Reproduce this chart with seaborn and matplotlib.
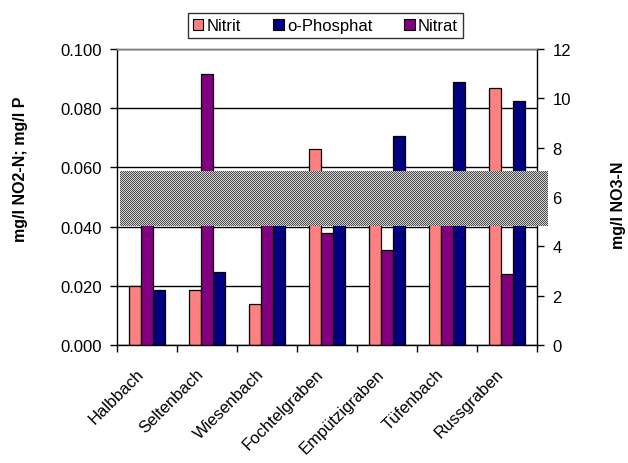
import numpy as np
import pandas as pd
import matplotlib
matplotlib.use("Agg")
import matplotlib.pyplot as plt
import matplotlib.transforms as mtransforms
from matplotlib.patches import Patch
from matplotlib.ticker import FormatStrFormatter, MultipleLocator, FixedLocator
import seaborn as sns

# --- data -------------------------------------------------------------
baeche = ["Halbbach", "Seltenbach", "Wiesenbach", "Fochtelgraben",
          "Empützigraben", "Tüfenbach", "Russgraben"]
nitrit = [0.0200, 0.0185, 0.0137, 0.0661, 0.0520, 0.0500, 0.0867]       # mg/l NO2-N
phosphat = [0.0185, 0.0246, 0.0520, 0.0500, 0.0707, 0.0890, 0.0824]     # mg/l P
nitrat = [6.0, 11.0, 5.6, 4.54, 3.84, 6.2, 2.89]                        # mg/l NO3-N

serien = ["Nitrit", "Nitrat", "o-Phosphat"]          # order of bars inside a group
legend_order = ["Nitrit", "o-Phosphat", "Nitrat"]
farben = {"Nitrit": "#FF8080", "o-Phosphat": "#000080", "Nitrat": "#800080"}

df = pd.DataFrame({
    "Bach": baeche * 3,
    "Serie": ["Nitrit"] * 7 + ["Nitrat"] * 7 + ["o-Phosphat"] * 7,
    "Wert": nitrit + nitrat + phosphat,
})
links = df.copy()
links.loc[links["Serie"] == "Nitrat", "Wert"] = np.nan
rechts = df.copy()
rechts.loc[rechts["Serie"] != "Nitrat", "Wert"] = np.nan

# --- figure -----------------------------------------------------------
sns.set_theme(style="white")
plt.rcParams["font.family"] = ["Liberation Sans", "DejaVu Sans"]
plt.rcParams.update({"text.color": "black", "axes.labelcolor": "black",
                     "xtick.color": "black", "ytick.color": "black"})

W, H = 628, 464
fig = plt.figure(figsize=(W / 100, H / 100), dpi=100)
ax = fig.add_axes([117 / W, 1 - 346 / H, 420 / W, 296 / H])
ax2 = ax.twinx()

bar_kw = dict(x="Bach", y="Wert", hue="Serie", hue_order=serien, order=baeche,
              palette=farben, width=0.6, saturation=1, errorbar=None,
              edgecolor="black", linewidth=0.9, legend=False)
sns.barplot(data=links, ax=ax, **bar_kw)
sns.barplot(data=rechts, ax=ax2, **bar_kw)

# left axis
ax.set_xlim(-0.5, 6.5)
ax.set_ylim(0, 0.1)
ax.yaxis.set_major_locator(MultipleLocator(0.02))
ax.yaxis.set_major_formatter(FormatStrFormatter("%.3f"))
ax.set_axisbelow(True)
ax.yaxis.grid(True, color="black", linewidth=1)
ax.xaxis.grid(False)
ax.set_xlabel("")
ax.set_ylabel("")

# right axis
ax2.set_ylim(0, 12)
ax2.yaxis.set_major_locator(MultipleLocator(2))
ax2.set_xlabel("")
ax2.set_ylabel("")
ax2.grid(False)

tick_fs = 12
ax.tick_params(axis="y", which="major", direction="out", length=5, width=1,
               color="black", labelcolor="black", labelsize=tick_fs, pad=6, left=True)
ax2.tick_params(axis="y", which="major", direction="out", length=5, width=1,
                color="black", labelcolor="black", labelsize=tick_fs, pad=6, right=True)

# category labels in the middle, tick marks at the group borders
ax.set_xticks(range(len(baeche)))
ax.set_xticklabels(baeche, rotation=45, ha="right", va="top",
                   rotation_mode="anchor", fontsize=tick_fs, color="black")
ax.tick_params(axis="x", which="major", length=0, pad=15)
ax.xaxis.set_minor_locator(FixedLocator(np.arange(-0.5, len(baeche), 1.0)))
ax.tick_params(axis="x", which="minor", direction="out", length=5, width=1,
               color="black", bottom=True)
shift = mtransforms.ScaledTranslation(-11 / 100, 0, fig.dpi_scale_trans)
for lbl in ax.get_xticklabels():
    lbl.set_transform(lbl.get_transform() + shift)

for a in (ax, ax2):
    for s in a.spines.values():
        s.set_linewidth(1)
ax.spines["left"].set_color("black")
ax.spines["bottom"].set_color("black")
ax.spines["top"].set_color("#808080")
ax.spines["right"].set_visible(False)
ax2.spines["left"].set_visible(False)
ax2.spines["bottom"].set_visible(False)
ax2.spines["top"].set_color("#808080")
ax2.spines["right"].set_color("black")

# axis titles
fig.text(21 / W, 1 - 169 / H, "mg/l NO2-N; mg/l P", rotation=90,
         ha="center", va="center", fontsize=11.5, fontweight="bold", color="black")
fig.text(618 / W, 1 - 205 / H, "mg/l NO3-N", rotation=90,
         ha="center", va="center", fontsize=11.5, fontweight="bold", color="black")

# legend
handles = [Patch(facecolor=farben[s], edgecolor="black", linewidth=0.8, label=s)
           for s in legend_order]
leg = fig.legend(handles=handles, loc="center", bbox_to_anchor=(0.518, 0.942),
                 ncol=3, frameon=True, fancybox=False, fontsize=12,
                 handlelength=0.65, handleheight=0.65, handletextpad=0.2,
                 columnspacing=1.9, borderpad=0.3, labelcolor="black")
leg.get_frame().set_edgecolor("black")
leg.get_frame().set_linewidth(1)

# checkered band laid over the plot
x0_ax, x1_ax = 0.007, 1.026
y0_val, y1_val = 0.0402, 0.0588
trans = mtransforms.blended_transform_factory(ax.transAxes, ax.transData)
(px0, py0), (px1, py1) = trans.transform([(x0_ax, y0_val), (x1_ax, y1_val)])
bw, bh = int(round(px1 - px0)), int(round(py1 - py0))
yy, xx = np.indices((bh, bw))
checker = ((xx + yy) % 2).astype(float)
dark, light = np.array([0.30, 0.30, 0.30]), np.array([0.82, 0.82, 0.82])
band = dark * checker[..., None] + light * (1 - checker[..., None])
fig.figimage(band, xo=int(round(px0)), yo=int(round(py0)), zorder=10, origin="lower")

fig.savefig("out.png", dpi=100)
